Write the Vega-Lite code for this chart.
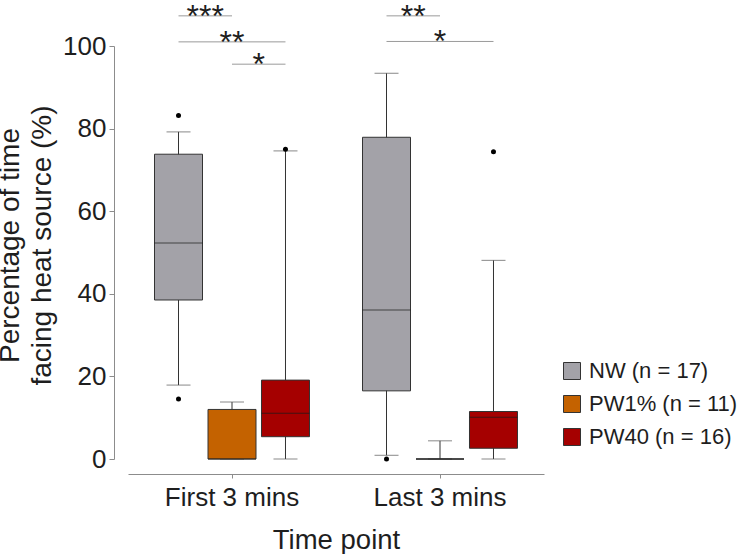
{
  "$schema": "https://vega.github.io/schema/vega-lite/v6.json",
  "width": 416,
  "height": 413,
  "autosize": {"type": "none"},
  "padding": {"left": 128, "top": 46, "right": 196, "bottom": 95},
  "background": "white",
  "config": {
    "view": {"stroke": null},
    "font": "Liberation Sans",
    "axis": {
      "grid": false,
      "domainColor": "#8c8c8c",
      "tickColor": "#8c8c8c",
      "labelColor": "#1e1e1e",
      "titleColor": "#1e1e1e",
      "labelFont": "Liberation Sans",
      "titleFont": "Liberation Sans",
      "titleFontWeight": "normal",
      "labelFontSize": 26,
      "titleFontSize": 27.5
    }
  },
  "datasets": {
    "stats": [
      {"time": "First 3 mins", "group": "NW", "lower": 17.9, "q1": 38.5, "median": 52.3, "q3": 73.8, "upper": 79.2},
      {"time": "First 3 mins", "group": "PW1%", "lower": 0, "q1": 0, "median": 0, "q3": 12.0, "upper": 13.8},
      {"time": "First 3 mins", "group": "PW40", "lower": 0, "q1": 5.4, "median": 11.1, "q3": 19.1, "upper": 74.6},
      {"time": "Last 3 mins", "group": "NW", "lower": 0.9, "q1": 16.5, "median": 36.1, "q3": 77.9, "upper": 93.4},
      {"time": "Last 3 mins", "group": "PW1%", "lower": 0, "q1": 0, "median": 0, "q3": 0, "upper": 4.4},
      {"time": "Last 3 mins", "group": "PW40", "lower": 0, "q1": 2.6, "median": 10.1, "q3": 11.5, "upper": 48.1}
    ],
    "outliers": [
      {"time": "First 3 mins", "group": "NW", "value": 83.2},
      {"time": "First 3 mins", "group": "NW", "value": 14.5},
      {"time": "First 3 mins", "group": "PW40", "value": 75.0},
      {"time": "Last 3 mins", "group": "NW", "value": 0},
      {"time": "Last 3 mins", "group": "PW40", "value": 74.4}
    ],
    "brackets": [
      {"bracket": "F1", "time": "First 3 mins", "group": "NW", "level": 107.3},
      {"bracket": "F1", "time": "First 3 mins", "group": "PW1%", "level": 107.3},
      {"bracket": "F2", "time": "First 3 mins", "group": "NW", "level": 101.0},
      {"bracket": "F2", "time": "First 3 mins", "group": "PW40", "level": 101.0},
      {"bracket": "F3", "time": "First 3 mins", "group": "PW1%", "level": 95.6},
      {"bracket": "F3", "time": "First 3 mins", "group": "PW40", "level": 95.6},
      {"bracket": "L1", "time": "Last 3 mins", "group": "NW", "level": 107.3},
      {"bracket": "L1", "time": "Last 3 mins", "group": "PW1%", "level": 107.3},
      {"bracket": "L2", "time": "Last 3 mins", "group": "NW", "level": 101.1},
      {"bracket": "L2", "time": "Last 3 mins", "group": "PW40", "level": 101.1}
    ],
    "stars": [
      {"time": "First 3 mins", "pos": "NW|PW1%", "level": 107.3, "label": "***"},
      {"time": "First 3 mins", "pos": "PW1%", "level": 101.0, "label": "**"},
      {"time": "First 3 mins", "pos": "PW1%|PW40", "level": 95.6, "label": "*"},
      {"time": "Last 3 mins", "pos": "NW|PW1%", "level": 107.3, "label": "**"},
      {"time": "Last 3 mins", "pos": "PW1%", "level": 101.1, "label": "*"}
    ]
  },
  "encoding": {
    "x": {
      "field": "time",
      "type": "nominal",
      "scale": {"domain": ["First 3 mins", "Last 3 mins"], "paddingInner": 0.1, "paddingOuter": 0.05},
      "axis": {"title": "Time point", "labelAngle": 0, "offset": 15, "tickSize": 4, "labelPadding": 6, "titlePadding": 16}
    }
  },
  "layer": [
    {
      "data": {"name": "stats"},
      "mark": {"type": "rule", "color": "#333333", "strokeWidth": 1},
      "encoding": {
        "xOffset": {"field": "group", "type": "nominal", "scale": {"domain": ["NW", "NW|PW1%", "PW1%", "PW1%|PW40", "PW40"], "paddingInner": 0, "paddingOuter": 1}},
        "y": {
          "field": "lower",
          "type": "quantitative",
          "scale": {"domain": [0, 100], "nice": false, "zero": false},
          "axis": {
            "title": ["Percentage of time", "facing heat source (%)"],
            "values": [0, 20, 40, 60, 80, 100],
            "offset": 14,
            "tickSize": 5,
            "labelPadding": 3,
            "titlePadding": 6,
            "titleLineHeight": 32,
            "titleFontSize": 28,
            "titleY": 199
          }
        },
        "y2": {"field": "upper"}
      }
    },
    {
      "data": {"name": "stats"},
      "mark": {"type": "tick", "color": "#555555", "size": 24, "thickness": 1},
      "encoding": {
        "xOffset": {"field": "group", "type": "nominal"},
        "y": {"field": "upper", "type": "quantitative"}
      }
    },
    {
      "data": {"name": "stats"},
      "mark": {"type": "tick", "color": "#555555", "size": 24, "thickness": 1},
      "encoding": {
        "xOffset": {"field": "group", "type": "nominal"},
        "y": {"field": "lower", "type": "quantitative"}
      }
    },
    {
      "data": {"name": "stats"},
      "mark": {"type": "bar", "width": 48, "stroke": "#333333", "strokeWidth": 1, "opacity": 1},
      "encoding": {
        "xOffset": {"field": "group", "type": "nominal"},
        "y": {"field": "q1", "type": "quantitative"},
        "y2": {"field": "q3"},
        "color": {
          "field": "group",
          "type": "nominal",
          "scale": {"domain": ["NW", "PW1%", "PW40"], "range": ["#a3a2a8", "#c46200", "#a50000"]},
          "legend": {
            "title": null,
            "orient": "none",
            "legendX": 433,
            "legendY": 314,
            "symbolType": "square",
            "symbolSize": 289,
            "symbolStrokeColor": "#333333",
            "symbolStrokeWidth": 1,
            "symbolOpacity": 1,
            "labelFont": "Liberation Sans",
            "labelFontSize": 22,
            "labelColor": "#1e1e1e",
            "labelOffset": 6,
            "rowPadding": 11,
            "labelExpr": "datum.label == 'NW' ? 'NW (n = 17)' : datum.label == 'PW1%' ? 'PW1% (n = 11)' : 'PW40 (n = 16)'"
          }
        }
      }
    },
    {
      "data": {"name": "stats"},
      "mark": {"type": "tick", "color": "#1a1a1a", "size": 48, "thickness": 1},
      "encoding": {
        "xOffset": {"field": "group", "type": "nominal"},
        "y": {"field": "median", "type": "quantitative"}
      }
    },
    {
      "data": {"name": "outliers"},
      "mark": {"type": "circle", "color": "#000000", "size": 25, "opacity": 1},
      "encoding": {
        "xOffset": {"field": "group", "type": "nominal"},
        "y": {"field": "value", "type": "quantitative"}
      }
    },
    {
      "data": {"name": "brackets"},
      "mark": {"type": "line", "color": "#9a9a9a", "strokeWidth": 1},
      "encoding": {
        "xOffset": {"field": "group", "type": "nominal"},
        "y": {"field": "level", "type": "quantitative"},
        "detail": {"field": "bracket"}
      }
    },
    {
      "data": {"name": "stars"},
      "mark": {"type": "text", "fontSize": 32, "color": "#1e1e1e", "baseline": "alphabetic", "align": "center", "dy": 11},
      "encoding": {
        "xOffset": {"field": "pos", "type": "nominal"},
        "y": {"field": "level", "type": "quantitative"},
        "text": {"field": "label"}
      }
    }
  ]
}
